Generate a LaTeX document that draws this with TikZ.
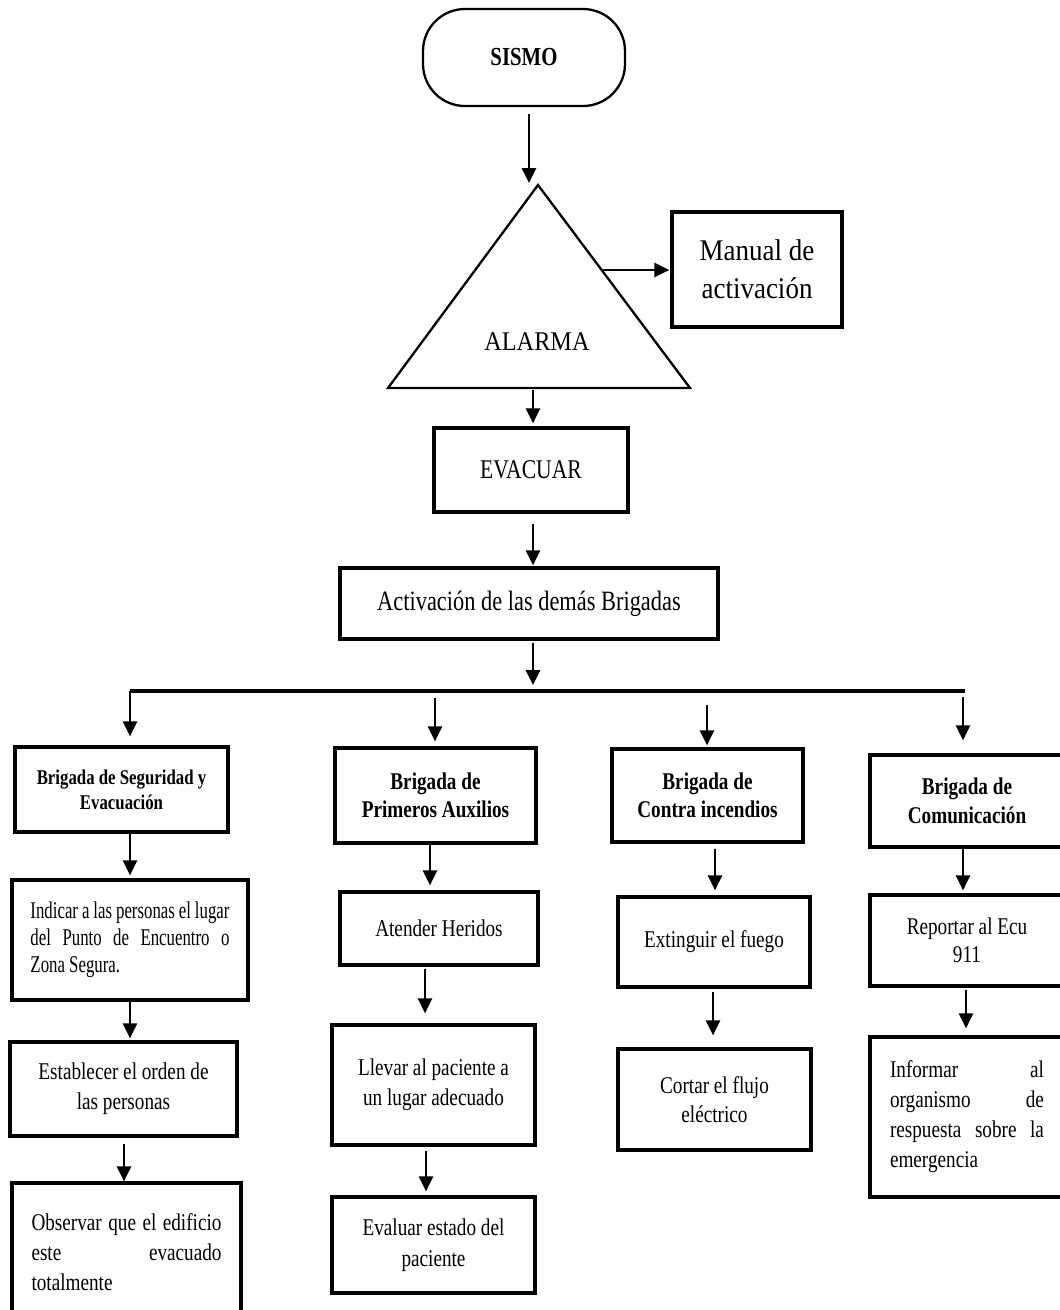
\documentclass[tikz,border=0pt]{standalone}
\usepackage{fontspec}
\setmainfont{Liberation Serif}
\newfontfamily\nf[FakeStretch=0.8]{Liberation Serif}
\newfontfamily\nfc[FakeStretch=0.7]{Liberation Serif}
\newfontfamily\nfw[FakeStretch=0.9]{Liberation Serif}
\usetikzlibrary{arrows.meta}
\tikzset{
  box/.style={draw, line width=3.2pt, inner sep=0pt, align=center, font=\nf\fontsize{24}{28}\selectfont},
  arr/.style={line width=2.6pt, -{Triangle[width=14pt,length=15pt]}},
  thinline/.style={line width=2.3pt},
}
\begin{document}
\begin{tikzpicture}[x=1pt,y=-1pt]
\useasboundingbox (0,0) rectangle (1060,1310);
\fill[white] (0,0) rectangle (1060,1310);
\clip (0,0) rectangle (1060,1310);

% top part
\node[draw, thinline, rounded corners=42pt, minimum width=202pt, minimum height=97pt, inner sep=0pt,
      font=\nf\bfseries\fontsize{26}{30}\selectfont] (sismo) at (524,57.5) {SISMO};

\coordinate (alTop) at (538,185);
\coordinate (alBL) at (388,388);
\coordinate (alBR) at (690,388);
\coordinate (alBot) at (533,388);
\coordinate (alSide) at (602,270);
\draw[thinline, line join=miter] (alTop) -- (alBR) -- (alBL) -- cycle;
\node[font=\nfw\fontsize{27}{32}\selectfont] (alarma) at (537,342) {ALARMA};

\node[box, minimum width=170pt, minimum height=115pt, font=\nfw\fontsize{30}{38}\selectfont] (manual) at (757,269.5) {Manual de\\activación};

\node[box, minimum width=194pt, minimum height=84pt, font=\nf\fontsize{27}{32}\selectfont] (evac) at (531,470) {EVACUAR};
\node[box, minimum width=378pt, minimum height=71pt, font=\nf\fontsize{28}{32}\selectfont] (act) at (529,603.5) {Activación de las demás Brigadas};

\coordinate (busL) at (130,691);
\coordinate (busR) at (965,691);
\draw[line width=3.2pt] (busL) -- (busR);

% row 1
\node[box, minimum width=213pt, minimum height=85pt, font=\nf\bfseries\fontsize{21}{25}\selectfont] (B1) at (121.5,789.5) {Brigada de Seguridad y\\Evacuación};
\node[box, minimum width=201pt, minimum height=95pt, font=\nf\bfseries\fontsize{24}{28}\selectfont] (B2) at (435.5,795.5) {Brigada de\\Primeros Auxilios};
\node[box, minimum width=191pt, minimum height=93pt, font=\nf\bfseries\fontsize{24}{28}\selectfont] (B3) at (707.5,795.5) {Brigada de\\Contra incendios};
\node[box, minimum width=194pt, minimum height=92pt, font=\nf\bfseries\fontsize{24}{29}\selectfont] (B4) at (967,801) {Brigada de\\Comunicación};

% row 2
\node[box, minimum width=236pt, minimum height=120pt, align=left, font=\nfc\fontsize{24}{27}\selectfont] (C1) at (130,940)
  {\makebox[199pt][s]{Indicar a las personas el lugar}\\\makebox[199pt][s]{del Punto de Encuentro o}\\Zona Segura.};
\node[box, minimum width=198pt, minimum height=73pt] (C2) at (439,928.5) {Atender Heridos};
\node[box, minimum width=192pt, minimum height=90pt] (C3) at (714,942) {Extinguir el fuego};
\node[box, minimum width=194pt, minimum height=91pt] (C4) at (967,940.5) {Reportar al Ecu\\911};

% row 3
\node[box, minimum width=227pt, minimum height=94pt, font=\nf\fontsize{24}{30}\selectfont] (D1) at (123.5,1089) {Establecer el orden de\\las personas};
\node[box, minimum width=203pt, minimum height=120pt, font=\nf\fontsize{24}{30}\selectfont] (D2) at (433.5,1085) {Llevar al paciente a\\un lugar adecuado};
\node[box, minimum width=193pt, minimum height=101pt, font=\nf\fontsize{24}{29}\selectfont] (D3) at (714.5,1099.5) {Cortar el flujo\\eléctrico};
\node[box, minimum width=194pt, minimum height=160pt, align=left, font=\nf\fontsize{24}{30}\selectfont] (D4) at (967,1117)
  {\makebox[154pt][s]{Informar al}\\\makebox[154pt][s]{organismo de}\\\makebox[154pt][s]{respuesta sobre la}\\emergencia};

% row 4
\node[box, minimum width=229pt, minimum height=138pt, align=left, font=\nf\fontsize{24}{30}\selectfont] (E1) at (126.5,1252)
  {\makebox[190pt][s]{Observar que el edificio}\\\makebox[190pt][s]{este evacuado}\\totalmente};
\node[box, minimum width=203pt, minimum height=96pt, font=\nf\fontsize{24}{31}\selectfont] (E2) at (433.5,1245) {Evaluar estado del\\paciente};

% connectors top
\draw[arr, shorten <=7pt, shorten >=2pt] (sismo.south -| 529,0) -- (529,0 |- alTop);
\draw[arr, shorten <=2pt, shorten >=3pt] (533,0 |- alBot) -- (533,0 |- evac.north);
\draw[arr, shorten <=10pt, shorten >=1pt] (533,0 |- evac.south) -- (533,0 |- act.north);
\draw[arr, shorten <=2pt, shorten >=6pt] (533,0 |- act.south) -- (533,0 |- busL);
\draw[arr, shorten >=1pt] (alSide) -- (alSide -| manual.west);

% branches
\draw[arr, shorten >=9pt] (130,0 |- busL) -- (130,0 |- B1.north);
\draw[arr, shorten <=7pt, shorten >=5pt] (435,0 |- busL) -- (435,0 |- B2.north);
\draw[arr, shorten <=14pt, shorten >=2pt] (707,0 |- busL) -- (707,0 |- B3.north);
\draw[arr, shorten <=6pt, shorten >=13pt] (963,0 |- busL) -- (963,0 |- B4.north);

% row 1 -> 2
\draw[arr, shorten >=3pt] (130,0 |- B1.south) -- (130,0 |- C1.north);
\draw[arr, shorten >=5pt] (430,0 |- B2.south) -- (430,0 |- C2.north);
\draw[arr, shorten <=5pt, shorten >=5pt] (715,0 |- B3.south) -- (715,0 |- C3.north);
\draw[arr, shorten >=3pt] (963,0 |- B4.south) -- (963,0 |- C4.north);

% row 2 -> 3
\draw[arr, shorten >=2pt] (130,0 |- C1.south) -- (130,0 |- D1.north);
\draw[arr, shorten <=2pt, shorten >=10pt] (425,0 |- C2.south) -- (425,0 |- D2.north);
\draw[arr, shorten <=3pt, shorten >=12pt] (713,0 |- C3.south) -- (713,0 |- D3.north);
\draw[arr, shorten <=2pt, shorten >=7pt] (966,0 |- C4.south) -- (966,0 |- D4.north);

% row 3 -> 4
\draw[arr, shorten <=6pt] (124,0 |- D1.south) -- (124,0 |- E1.north);
\draw[arr, shorten <=4pt, shorten >=4pt] (426,0 |- D2.south) -- (426,0 |- E2.north);
\end{tikzpicture}
\end{document}
